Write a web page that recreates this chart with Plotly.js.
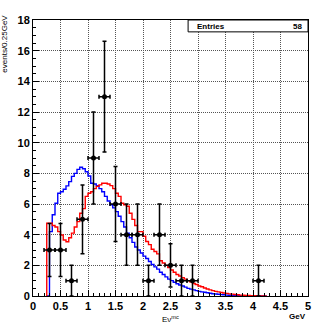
<!DOCTYPE html>
<html>
<head>
<meta charset="utf-8">
<script src="https://cdn.plot.ly/plotly-3.0.1.min.js"></script>
<style>
  body { margin: 0; background: #fff; }
  #g0 { width: 320px; height: 327px; }
</style>
</head>
<body>
<div id="g0"></div>
<script>
// measured events, 0.2 GeV wide points
const dataX = [0.3, 0.5, 0.7, 0.9, 1.1, 1.3, 1.5, 1.7, 1.9, 2.1, 2.3, 2.5, 2.7, 2.9, 4.1];
const dataY = [3, 3, 1, 5, 9, 13, 6, 4, 4, 1, 4, 2, 1, 1, 1];
const dataErr = [1.73, 1.73, 1, 2.24, 3, 3.61, 2.45, 2, 2, 1, 2, 1.41, 1, 1, 1];
const dataXErr = 0.1;

// MC histograms, bins of 0.05 GeV starting at 0.25 GeV
const binStart = 0.25;
const binWidth = 0.05;
const blueHist = [
  0, 4.2, 5.3, 6.05, 6.7, 6.8, 6.96, 7.18, 7.46, 7.8, 8.0, 8.26, 8.4, 8.3, 8.1, 7.83, 7.35,
  7.3, 7.2, 7.0, 6.8, 6.5, 6.2, 5.95, 5.75, 5.5, 5.2, 4.85, 4.5, 4.1, 3.8, 3.5, 3.2, 3.0,
  2.8, 2.6, 2.45, 2.25, 2.05, 1.9, 1.75, 1.55, 1.4, 1.25, 1.1, 1.0, 0.9, 0.8, 0.72, 0.65,
  0.58, 0.5, 0.45, 0.4, 0.35, 0.3, 0.27, 0.24, 0.21, 0.18, 0.15, 0.13, 0.11, 0.09, 0.08,
  0.06, 0.05, 0.04, 0.03, 0.03, 0.02, 0.02, 0.01, 0.01, 0.01, 0.01, 0.01, 0.01, 0.01, 0
];
const redHist = [
  4.75, 4.75, 4.6, 4.5, 4.2, 3.98, 3.65, 3.54, 3.8, 4.1, 4.5, 4.85, 5.4, 5.7, 6.5, 6.7, 6.8,
  7.0, 7.15, 7.25, 7.35, 7.35, 7.3, 7.2, 7.0, 6.7, 6.5, 6.05, 5.95, 5.85, 5.4, 5.0, 4.6, 4.2,
  4.2, 3.9, 3.55, 3.35, 3.05, 2.9, 2.75, 2.3, 2.15, 2.0, 1.85, 1.7, 1.55, 1.4, 1.3, 1.2,
  1.1, 1.0, 0.92, 0.82, 0.75, 0.65, 0.6, 0.52, 0.46, 0.4, 0.35, 0.3, 0.27, 0.23, 0.2,
  0.17, 0.14, 0.12, 0.1, 0.08, 0.06, 0.05, 0.04, 0.03, 0.02, 0.02, 0.01, 0.01, 0.01, 0
];

function stepTrace(vals, color) {
  const xs = [binStart];
  const ys = [0];
  vals.forEach((v, i) => {
    xs.push(binStart + i * binWidth);
    ys.push(v);
  });
  xs.push(binStart + vals.length * binWidth);
  ys.push(0);
  return {
    x: xs, y: ys, type: 'scatter', mode: 'lines',
    line: {shape: 'hv', color: color, width: 1.4},
    hoverinfo: 'skip'
  };
}

const entries = dataY.reduce((a, b) => a + b, 0);

const data = [
  stepTrace(blueHist, '#0000ff'),
  stepTrace(redHist, '#ff0000'),
  {
    x: dataX, y: dataY, type: 'scatter', mode: 'markers',
    marker: {color: '#000', size: 5},
    error_y: {type: 'data', array: dataErr, color: '#000', thickness: 1.5, width: 2},
    error_x: {type: 'constant', value: dataXErr, color: '#000', thickness: 1.5, width: 2}
  }
];

const tickFont = {family: 'Liberation Sans, Arial, sans-serif', size: 11, color: '#000', weight: 'bold'};
const smallFont = {family: 'Liberation Sans, Arial, sans-serif', size: 8, color: '#000', weight: 'bold'};

const layout = {
  width: 320, height: 327,
  margin: {l: 33, r: 12, t: 20, b: 31},
  paper_bgcolor: '#fff', plot_bgcolor: '#fff',
  showlegend: false,
  xaxis: {
    range: [0, 5], dtick: 0.5, tick0: 0,
    showline: true, mirror: true, linecolor: '#000', linewidth: 1,
    ticks: 'inside', ticklen: 6, tickcolor: '#000',
    minor: {dtick: 0.1, ticks: 'inside', ticklen: 3, tickcolor: '#000', showgrid: false},
    showgrid: true, gridcolor: '#555', griddash: '1px,1px', gridwidth: 1,
    zeroline: false, tickfont: tickFont
  },
  yaxis: {
    range: [0, 18], dtick: 2, tick0: 0,
    showline: true, mirror: true, linecolor: '#000', linewidth: 1,
    ticks: 'inside', ticklen: 6, tickcolor: '#000',
    minor: {dtick: 0.5, ticks: 'inside', ticklen: 3, tickcolor: '#000', showgrid: false},
    showgrid: true, gridcolor: '#555', griddash: '1px,1px', gridwidth: 1,
    zeroline: false, tickfont: tickFont
  },
  shapes: [
    {type: 'rect', xref: 'paper', yref: 'paper', x0: 0.564, x1: 1, y0: 0.957, y1: 1,
     line: {color: '#000', width: 1}, fillcolor: '#fff'}
  ],
  annotations: [
    {text: 'Entries', xref: 'paper', yref: 'paper', x: 0.59, y: 0.978,
     xanchor: 'left', yanchor: 'middle', showarrow: false, font: smallFont},
    {text: String(entries), xref: 'paper', yref: 'paper', x: 0.987, y: 0.978,
     xanchor: 'right', yanchor: 'middle', showarrow: false, font: smallFont},
    {text: 'events/0.25GeV', xref: 'paper', yref: 'paper', x: -0.105, y: 1.027,
     xanchor: 'center', yanchor: 'top', textangle: -90, showarrow: false,
     font: {family: 'Liberation Sans, Arial, sans-serif', size: 8, color: '#000'}},
    {text: 'Eν<sup>mc</sup>', xref: 'paper', yref: 'paper', x: 0.5, y: -0.058,
     xanchor: 'center', yanchor: 'top', showarrow: false,
     font: {family: 'Liberation Sans, Arial, sans-serif', size: 8, color: '#000'}},
    {text: 'GeV', xref: 'paper', yref: 'paper', x: 1.0, y: -0.052,
     xanchor: 'right', yanchor: 'top', showarrow: false, font: smallFont}
  ]
};

Plotly.newPlot('g0', data, layout, {displayModeBar: false, staticPlot: true});
</script>
</body>
</html>
